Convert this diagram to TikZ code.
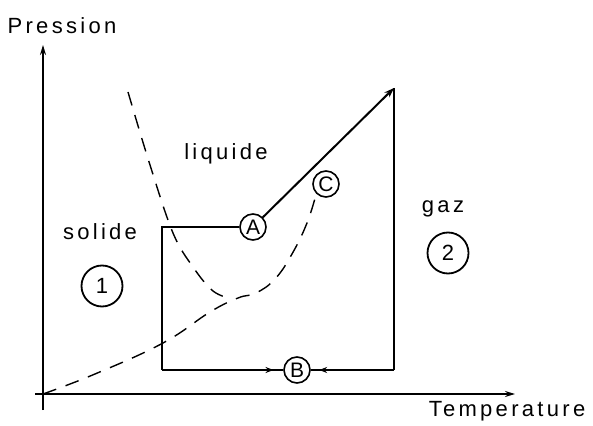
\documentclass[tikz,border=0pt]{standalone}
\usepackage{fontspec}
\setmainfont{Liberation Sans}[LetterSpace=15]
\usetikzlibrary{arrows.meta,decorations.markings}

\begin{document}
\begin{tikzpicture}[
    x=0.5pt, y=-0.5pt,
    lbl/.style={font=\fontsize{11}{13}\selectfont, inner sep=0pt},
    pt/.style={circle, draw, line width=0.8pt, minimum size=13pt, inner sep=0pt, font=\fontsize{10.5}{10.5}\selectfont},
    zone/.style={circle, draw, line width=0.9pt, minimum size=20.5pt, inner sep=0pt, font=\fontsize{11}{11}\selectfont},
    axis/.style={-{Stealth[length=5pt,width=3pt]}, line width=0.8pt},
    trans/.style={line width=1pt},
    toB/.style={postaction={decorate}, decoration={markings, mark=at position #1 with {\arrow{Stealth[length=4pt,width=3pt]}}}},
    phase/.style={line width=0.7pt, dash pattern=on 7pt off 5pt}
]
\useasboundingbox (0,0) rectangle (593,426);

% axes
\coordinate (o) at (43,394);
\coordinate (ytop) at (43,45);
\coordinate (xend) at (515,394);
\draw[axis] (43,410) -- (ytop);
\draw[axis] (35,394) -- (xend);
\node[lbl] (pres) at (62,26) {Pression};
\node[lbl] (temp) at (507,411) {Temperature};

% phase labels
\node[lbl] (liq) at (226,154) {liquide};
\node[lbl] (sol) at (100,232) {solide};
\node[lbl] (gas) at (443,209) {gaz};
\node[zone] (z1) at (102,286) {1};
\node[zone] (z2) at (448,253) {2};

% states
\node[pt] (A) at (253,227) {A};
\node[pt] (B) at (297,370) {B};
\node[pt] (C) at (326,184) {C};
\coordinate (cTL) at (162,227);
\coordinate (cBL) at (162,370);
\coordinate (cTR) at (394,88);
\coordinate (cBR) at (394,370);

% dashed curves
\draw[phase] plot[smooth, tension=0.6] coordinates {(128,92) (150,165) (173,233) (193,267) (213,291) (232,299)};
\draw[phase] plot[smooth, tension=0.7] coordinates {(o) (95,374) (163,343) (210,312) (238,298) (256,293) (275,279) (292,254) (307,223) (C.south west)};

% transformations
\draw[trans] (A.west) -- (cTL) -- (cBL);
\draw[trans, toB=0.92] (cBL) -- (B.west);
\draw[trans, -{Stealth[length=5pt,width=3.5pt]}] (A) -- (cTR);
\draw[trans] (cTR) -- (cBR);
\draw[trans, toB=0.9] (cBR) -- (B.east);
\end{tikzpicture}
\end{document}
